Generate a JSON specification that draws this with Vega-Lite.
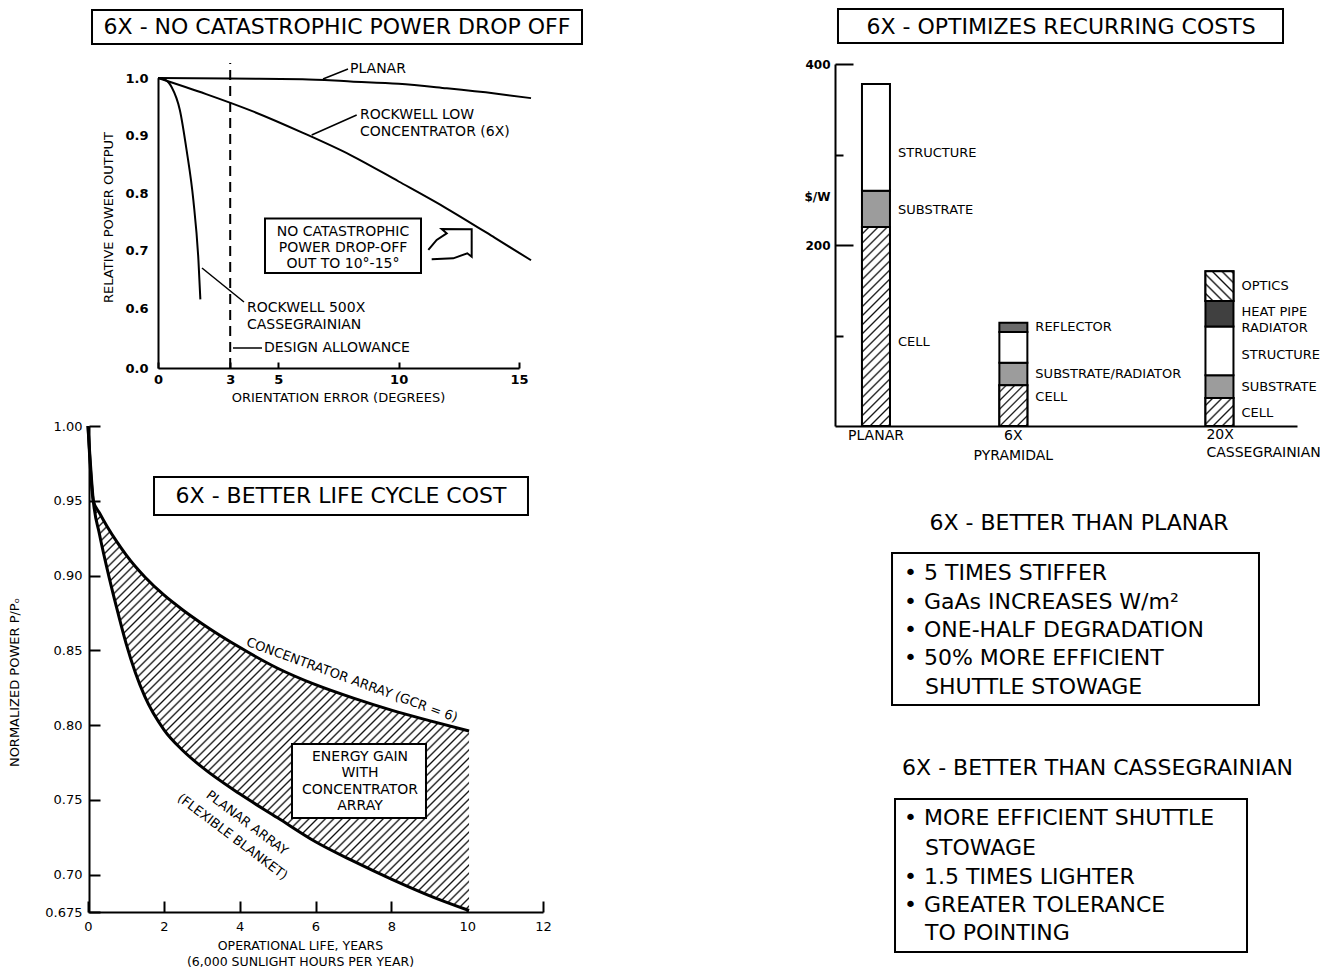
{
"$schema": "https://vega.github.io/schema/vega-lite/v6.json",
"width": 1336, "height": 970, "padding": 0, "autosize": {"type": "none"},
"background": "white",
"config": {
  "view": {"stroke": null},
  "font": "DejaVu Sans",
  "axis": {"grid": false, "domainColor": "#000", "domainWidth": 2, "tickColor": "#000", "tickWidth": 2, "labelColor": "#000", "titleColor": "#000", "labelFont": "DejaVu Sans", "titleFont": "DejaVu Sans", "labelFlush": false, "labelOverlap": false, "titleFontWeight": "normal", "titleFontSize": 13, "labelFontSize": 13},
  "text": {"font": "DejaVu Sans", "color": "#000", "fontSize": 13, "baseline": "middle"}
},
"datasets": {
  "bars": [
    {"design": "PLANAR", "component": "CELL", "usd_per_w": 220, "seq": 1},
    {"design": "PLANAR", "component": "SUBSTRATE", "usd_per_w": 40, "seq": 2},
    {"design": "PLANAR", "component": "STRUCTURE", "usd_per_w": 118, "seq": 3},
    {"design": "6X", "component": "CELL", "usd_per_w": 45, "seq": 1},
    {"design": "6X", "component": "SUBSTRATE", "usd_per_w": 25, "seq": 2},
    {"design": "6X", "component": "STRUCTURE", "usd_per_w": 34, "seq": 3},
    {"design": "6X", "component": "REFLECTOR", "usd_per_w": 10, "seq": 4},
    {"design": "20X", "component": "CELL", "usd_per_w": 31, "seq": 1},
    {"design": "20X", "component": "SUBSTRATE", "usd_per_w": 25, "seq": 2},
    {"design": "20X", "component": "STRUCTURE", "usd_per_w": 54, "seq": 3},
    {"design": "20X", "component": "HEAT PIPE RADIATOR", "usd_per_w": 28, "seq": 4},
    {"design": "20X", "component": "OPTICS", "usd_per_w": 33, "seq": 5}
  ]
},
"resolve": {"scale": {"x": "independent", "y": "independent", "fill": "independent"}, "axis": {"x": "independent", "y": "independent"}},
"layer": [
{
  "encoding": {
    "x": {"field": "deg", "type": "quantitative", "scale": {"domain": [0, 15], "range": [158, 519], "nice": false, "zero": false},
      "axis": {"orient": "bottom", "offset": -602, "values": [0, 3, 5, 10, 15], "tickSize": -6, "labelPadding": 11.5, "labelFontWeight": "bold", "title": "ORIENTATION ERROR (DEGREES)", "titleX": 338, "titleY": 29, "titleAlign": "center", "titleBaseline": "middle"}},
    "y": {"field": "power", "type": "quantitative", "scale": {"domain": [0, 0.6, 1], "range": [368, 308, 78], "nice": false, "zero": false},
      "axis": {"orient": "left", "offset": -158, "values": [0, 0.6, 0.7, 0.8, 0.9, 1], "format": ".1f", "ticks": false, "labelPadding": 10, "labelFontWeight": "bold", "title": "RELATIVE POWER OUTPUT", "titleX": -50, "titleY": 217, "titleAngle": 270, "titleAlign": "center", "titleBaseline": "middle"}}
  },
  "layer": [
    {"data": {"values": [
      {"series": "PLANAR", "deg": 0, "power": 1.0}, {"series": "PLANAR", "deg": 3, "power": 0.999}, {"series": "PLANAR", "deg": 6, "power": 0.998}, {"series": "PLANAR", "deg": 8, "power": 0.994}, {"series": "PLANAR", "deg": 10, "power": 0.99}, {"series": "PLANAR", "deg": 12, "power": 0.982}, {"series": "PLANAR", "deg": 14, "power": 0.973}, {"series": "PLANAR", "deg": 15.5, "power": 0.965},
      {"series": "6X", "deg": 0, "power": 1.0}, {"series": "6X", "deg": 2, "power": 0.972}, {"series": "6X", "deg": 4, "power": 0.941}, {"series": "6X", "deg": 6, "power": 0.905}, {"series": "6X", "deg": 8, "power": 0.866}, {"series": "6X", "deg": 10, "power": 0.82}, {"series": "6X", "deg": 12, "power": 0.773}, {"series": "6X", "deg": 14, "power": 0.722}, {"series": "6X", "deg": 15.5, "power": 0.683},
      {"series": "500X", "deg": 0, "power": 1.0}, {"series": "500X", "deg": 0.3, "power": 0.997}, {"series": "500X", "deg": 0.57, "power": 0.984}, {"series": "500X", "deg": 0.91, "power": 0.944}, {"series": "500X", "deg": 1.19, "power": 0.874}, {"series": "500X", "deg": 1.47, "power": 0.787}, {"series": "500X", "deg": 1.68, "power": 0.683}, {"series": "500X", "deg": 1.76, "power": 0.615}
    ]},
     "mark": {"type": "line", "color": "#000", "strokeWidth": 2, "interpolate": "monotone"},
     "encoding": {"detail": {"field": "series"}}},
    {"data": {"values": [{"deg": 3, "power": 0, "deg2": 3, "power2": 1.026}]},
     "mark": {"type": "rule", "color": "#000", "strokeWidth": 2, "strokeDash": [10, 6]},
     "encoding": {"x2": {"field": "deg2"}, "y2": {"field": "power2"}}},
    {"data": {"values": [
      {"deg": 7.895, "power": 1.0157, "deg2": 6.856, "power2": 0.9983},
      {"deg": 8.256, "power": 0.9357, "deg2": 6.386, "power2": 0.9009},
      {"deg": 3.573, "power": 0.6104, "deg2": 1.828, "power2": 0.6696},
      {"deg": 4.321, "power": 0.2, "deg2": 3.116, "power2": 0.2}
    ]},
     "mark": {"type": "rule", "color": "#000", "strokeWidth": 1.5},
     "encoding": {"x2": {"field": "deg2"}, "y2": {"field": "power2"}}},
    {"data": {"values": [
      {"deg": -2.742, "deg2": 17.618, "power": 1.1183, "power2": 1.0591},
      {"deg": 4.446, "deg2": 10.928, "power": 0.7557, "power2": 0.6609}
    ]},
     "mark": {"type": "rect", "fill": "#fff", "stroke": "#000", "strokeWidth": 2},
     "encoding": {"x2": {"field": "deg2"}, "y2": {"field": "power2"}}},
    {"data": {"values": [
      {"seq": 1, "deg": 11.232, "power": 0.7009}, {"seq": 2, "deg": 11.58, "power": 0.7183}, {"seq": 3, "deg": 11.996, "power": 0.7299}, {"seq": 4, "deg": 11.788, "power": 0.7374}, {"seq": 5, "deg": 13.034, "power": 0.7368}, {"seq": 6, "deg": 13.034, "power": 0.6892}, {"seq": 7, "deg": 12.852, "power": 0.6951}, {"seq": 8, "deg": 12.27, "power": 0.6864}, {"seq": 9, "deg": 11.372, "power": 0.6847}
    ]},
     "mark": {"type": "line", "color": "#000", "strokeWidth": 2},
     "encoding": {"order": {"field": "seq", "type": "quantitative"}}},
    {"data": {"values": [
      {"label": "PLANAR", "deg": 7.978, "power": 1.0157},
      {"label": "ROCKWELL LOW", "deg": 8.393, "power": 0.9357},
      {"label": "CONCENTRATOR (6X)", "deg": 8.393, "power": 0.9061},
      {"label": "ROCKWELL 500X", "deg": 3.698, "power": 0.6},
      {"label": "CASSEGRAINIAN", "deg": 3.698, "power": 0.43},
      {"label": "DESIGN ALLOWANCE", "deg": 4.404, "power": 0.2}
    ]},
     "mark": {"type": "text", "align": "left", "fontSize": 14},
     "encoding": {"text": {"field": "label"}}},
    {"data": {"values": [
      {"label": "NO CATASTROPHIC", "deg": 7.687, "power": 0.733},
      {"label": "POWER DROP-OFF", "deg": 7.687, "power": 0.7043},
      {"label": "OUT TO 10°-15°", "deg": 7.687, "power": 0.6765}
    ]},
     "mark": {"type": "text", "align": "center", "fontSize": 14},
     "encoding": {"text": {"field": "label"}}},
    {"data": {"values": [{"label": "6X - NO CATASTROPHIC POWER DROP OFF", "deg": 7.438, "power": 1.0887}]},
     "mark": {"type": "text", "align": "center", "fontSize": 22},
     "encoding": {"text": {"field": "label"}}}
  ]
},
{
  "data": {"values": [
    {"yr": 0, "conc": 1.0, "planar": 1.0},
    {"yr": 0.14, "conc": 0.95, "planar": 0.95},
    {"yr": 0.3, "conc": 0.942, "planar": 0.928},
    {"yr": 0.5, "conc": 0.933, "planar": 0.905},
    {"yr": 0.75, "conc": 0.923, "planar": 0.879},
    {"yr": 1, "conc": 0.914, "planar": 0.855},
    {"yr": 1.25, "conc": 0.906, "planar": 0.835},
    {"yr": 1.5, "conc": 0.899, "planar": 0.819},
    {"yr": 2, "conc": 0.887, "planar": 0.797},
    {"yr": 2.5, "conc": 0.877, "planar": 0.783},
    {"yr": 3, "conc": 0.868, "planar": 0.772},
    {"yr": 4, "conc": 0.852, "planar": 0.754},
    {"yr": 5, "conc": 0.838, "planar": 0.738},
    {"yr": 6, "conc": 0.827, "planar": 0.722},
    {"yr": 7, "conc": 0.818, "planar": 0.709},
    {"yr": 8, "conc": 0.81, "planar": 0.697},
    {"yr": 9, "conc": 0.803, "planar": 0.686},
    {"yr": 10.05, "conc": 0.796, "planar": 0.676}
  ]},
  "encoding": {
    "x": {"field": "yr", "type": "quantitative", "scale": {"domain": [0, 12], "range": [88, 543], "nice": false, "zero": false},
      "axis": {"orient": "bottom", "offset": -58, "values": [0, 2, 4, 6, 8, 10, 12], "tickSize": -11, "labelPadding": 19, "title": ["OPERATIONAL LIFE, YEARS", "(6,000 SUNLIGHT HOURS PER YEAR)"], "titleX": 300, "titleY": 33, "titleAlign": "center", "titleBaseline": "middle", "titleLineHeight": 16, "titleFontSize": 12.5}},
    "y": {"field": "p", "type": "quantitative", "scale": {"domain": [0.675, 1], "range": [912, 426], "nice": false, "zero": false},
      "axis": {"orient": "left", "offset": -89, "values": [0.675, 0.7, 0.75, 0.8, 0.85, 0.9, 0.95, 1], "labelExpr": "datum.value === 0.675 ? '0.675' : format(datum.value, '.2f')", "tickSize": -11, "labelPadding": 18, "title": "NORMALIZED POWER P/Pₒ", "titleX": -75, "titleY": 682, "titleAngle": 270, "titleAlign": "center", "titleBaseline": "middle"}}
  },
  "layer": [
    {"transform": [{"filter": "datum.yr > 0"}],
     "mark": {"type": "area", "interpolate": "monotone", "stroke": null, "fill": {"gradient": "linear", "x1": 0, "y1": 0, "x2": 1, "y2": 1.094, "stops": [
{"offset":0,"color":"#fff"},{"offset":0.0055,"color":"#fff"},{"offset":0.0078,"color":"#111"},
{"offset":0.01,"color":"#fff"},{"offset":0.0155,"color":"#fff"},{"offset":0.0178,"color":"#111"},
{"offset":0.02,"color":"#fff"},{"offset":0.0255,"color":"#fff"},{"offset":0.0278,"color":"#111"},
{"offset":0.03,"color":"#fff"},{"offset":0.0355,"color":"#fff"},{"offset":0.0378,"color":"#111"},
{"offset":0.04,"color":"#fff"},{"offset":0.0455,"color":"#fff"},{"offset":0.0478,"color":"#111"},
{"offset":0.05,"color":"#fff"},{"offset":0.0555,"color":"#fff"},{"offset":0.0578,"color":"#111"},
{"offset":0.06,"color":"#fff"},{"offset":0.0655,"color":"#fff"},{"offset":0.0678,"color":"#111"},
{"offset":0.07,"color":"#fff"},{"offset":0.0755,"color":"#fff"},{"offset":0.0778,"color":"#111"},
{"offset":0.08,"color":"#fff"},{"offset":0.0855,"color":"#fff"},{"offset":0.0878,"color":"#111"},
{"offset":0.09,"color":"#fff"},{"offset":0.0955,"color":"#fff"},{"offset":0.0978,"color":"#111"},
{"offset":0.10,"color":"#fff"},{"offset":0.1055,"color":"#fff"},{"offset":0.1078,"color":"#111"},
{"offset":0.11,"color":"#fff"},{"offset":0.1155,"color":"#fff"},{"offset":0.1178,"color":"#111"},
{"offset":0.12,"color":"#fff"},{"offset":0.1255,"color":"#fff"},{"offset":0.1278,"color":"#111"},
{"offset":0.13,"color":"#fff"},{"offset":0.1355,"color":"#fff"},{"offset":0.1378,"color":"#111"},
{"offset":0.14,"color":"#fff"},{"offset":0.1455,"color":"#fff"},{"offset":0.1478,"color":"#111"},
{"offset":0.15,"color":"#fff"},{"offset":0.1555,"color":"#fff"},{"offset":0.1578,"color":"#111"},
{"offset":0.16,"color":"#fff"},{"offset":0.1655,"color":"#fff"},{"offset":0.1678,"color":"#111"},
{"offset":0.17,"color":"#fff"},{"offset":0.1755,"color":"#fff"},{"offset":0.1778,"color":"#111"},
{"offset":0.18,"color":"#fff"},{"offset":0.1855,"color":"#fff"},{"offset":0.1878,"color":"#111"},
{"offset":0.19,"color":"#fff"},{"offset":0.1955,"color":"#fff"},{"offset":0.1978,"color":"#111"},
{"offset":0.20,"color":"#fff"},{"offset":0.2055,"color":"#fff"},{"offset":0.2078,"color":"#111"},
{"offset":0.21,"color":"#fff"},{"offset":0.2155,"color":"#fff"},{"offset":0.2178,"color":"#111"},
{"offset":0.22,"color":"#fff"},{"offset":0.2255,"color":"#fff"},{"offset":0.2278,"color":"#111"},
{"offset":0.23,"color":"#fff"},{"offset":0.2355,"color":"#fff"},{"offset":0.2378,"color":"#111"},
{"offset":0.24,"color":"#fff"},{"offset":0.2455,"color":"#fff"},{"offset":0.2478,"color":"#111"},
{"offset":0.25,"color":"#fff"},{"offset":0.2555,"color":"#fff"},{"offset":0.2578,"color":"#111"},
{"offset":0.26,"color":"#fff"},{"offset":0.2655,"color":"#fff"},{"offset":0.2678,"color":"#111"},
{"offset":0.27,"color":"#fff"},{"offset":0.2755,"color":"#fff"},{"offset":0.2778,"color":"#111"},
{"offset":0.28,"color":"#fff"},{"offset":0.2855,"color":"#fff"},{"offset":0.2878,"color":"#111"},
{"offset":0.29,"color":"#fff"},{"offset":0.2955,"color":"#fff"},{"offset":0.2978,"color":"#111"},
{"offset":0.30,"color":"#fff"},{"offset":0.3055,"color":"#fff"},{"offset":0.3078,"color":"#111"},
{"offset":0.31,"color":"#fff"},{"offset":0.3155,"color":"#fff"},{"offset":0.3178,"color":"#111"},
{"offset":0.32,"color":"#fff"},{"offset":0.3255,"color":"#fff"},{"offset":0.3278,"color":"#111"},
{"offset":0.33,"color":"#fff"},{"offset":0.3355,"color":"#fff"},{"offset":0.3378,"color":"#111"},
{"offset":0.34,"color":"#fff"},{"offset":0.3455,"color":"#fff"},{"offset":0.3478,"color":"#111"},
{"offset":0.35,"color":"#fff"},{"offset":0.3555,"color":"#fff"},{"offset":0.3578,"color":"#111"},
{"offset":0.36,"color":"#fff"},{"offset":0.3655,"color":"#fff"},{"offset":0.3678,"color":"#111"},
{"offset":0.37,"color":"#fff"},{"offset":0.3755,"color":"#fff"},{"offset":0.3778,"color":"#111"},
{"offset":0.38,"color":"#fff"},{"offset":0.3855,"color":"#fff"},{"offset":0.3878,"color":"#111"},
{"offset":0.39,"color":"#fff"},{"offset":0.3955,"color":"#fff"},{"offset":0.3978,"color":"#111"},
{"offset":0.40,"color":"#fff"},{"offset":0.4055,"color":"#fff"},{"offset":0.4078,"color":"#111"},
{"offset":0.41,"color":"#fff"},{"offset":0.4155,"color":"#fff"},{"offset":0.4178,"color":"#111"},
{"offset":0.42,"color":"#fff"},{"offset":0.4255,"color":"#fff"},{"offset":0.4278,"color":"#111"},
{"offset":0.43,"color":"#fff"},{"offset":0.4355,"color":"#fff"},{"offset":0.4378,"color":"#111"},
{"offset":0.44,"color":"#fff"},{"offset":0.4455,"color":"#fff"},{"offset":0.4478,"color":"#111"},
{"offset":0.45,"color":"#fff"},{"offset":0.4555,"color":"#fff"},{"offset":0.4578,"color":"#111"},
{"offset":0.46,"color":"#fff"},{"offset":0.4655,"color":"#fff"},{"offset":0.4678,"color":"#111"},
{"offset":0.47,"color":"#fff"},{"offset":0.4755,"color":"#fff"},{"offset":0.4778,"color":"#111"},
{"offset":0.48,"color":"#fff"},{"offset":0.4855,"color":"#fff"},{"offset":0.4878,"color":"#111"},
{"offset":0.49,"color":"#fff"},{"offset":0.4955,"color":"#fff"},{"offset":0.4978,"color":"#111"},
{"offset":0.50,"color":"#fff"},{"offset":0.5055,"color":"#fff"},{"offset":0.5078,"color":"#111"},
{"offset":0.51,"color":"#fff"},{"offset":0.5155,"color":"#fff"},{"offset":0.5178,"color":"#111"},
{"offset":0.52,"color":"#fff"},{"offset":0.5255,"color":"#fff"},{"offset":0.5278,"color":"#111"},
{"offset":0.53,"color":"#fff"},{"offset":0.5355,"color":"#fff"},{"offset":0.5378,"color":"#111"},
{"offset":0.54,"color":"#fff"},{"offset":0.5455,"color":"#fff"},{"offset":0.5478,"color":"#111"},
{"offset":0.55,"color":"#fff"},{"offset":0.5555,"color":"#fff"},{"offset":0.5578,"color":"#111"},
{"offset":0.56,"color":"#fff"},{"offset":0.5655,"color":"#fff"},{"offset":0.5678,"color":"#111"},
{"offset":0.57,"color":"#fff"},{"offset":0.5755,"color":"#fff"},{"offset":0.5778,"color":"#111"},
{"offset":0.58,"color":"#fff"},{"offset":0.5855,"color":"#fff"},{"offset":0.5878,"color":"#111"},
{"offset":0.59,"color":"#fff"},{"offset":0.5955,"color":"#fff"},{"offset":0.5978,"color":"#111"},
{"offset":0.60,"color":"#fff"},{"offset":0.6055,"color":"#fff"},{"offset":0.6078,"color":"#111"},
{"offset":0.61,"color":"#fff"},{"offset":0.6155,"color":"#fff"},{"offset":0.6178,"color":"#111"},
{"offset":0.62,"color":"#fff"},{"offset":0.6255,"color":"#fff"},{"offset":0.6278,"color":"#111"},
{"offset":0.63,"color":"#fff"},{"offset":0.6355,"color":"#fff"},{"offset":0.6378,"color":"#111"},
{"offset":0.64,"color":"#fff"},{"offset":0.6455,"color":"#fff"},{"offset":0.6478,"color":"#111"},
{"offset":0.65,"color":"#fff"},{"offset":0.6555,"color":"#fff"},{"offset":0.6578,"color":"#111"},
{"offset":0.66,"color":"#fff"},{"offset":0.6655,"color":"#fff"},{"offset":0.6678,"color":"#111"},
{"offset":0.67,"color":"#fff"},{"offset":0.6755,"color":"#fff"},{"offset":0.6778,"color":"#111"},
{"offset":0.68,"color":"#fff"},{"offset":0.6855,"color":"#fff"},{"offset":0.6878,"color":"#111"},
{"offset":0.69,"color":"#fff"},{"offset":0.6955,"color":"#fff"},{"offset":0.6978,"color":"#111"},
{"offset":0.70,"color":"#fff"},{"offset":0.7055,"color":"#fff"},{"offset":0.7078,"color":"#111"},
{"offset":0.71,"color":"#fff"},{"offset":0.7155,"color":"#fff"},{"offset":0.7178,"color":"#111"},
{"offset":0.72,"color":"#fff"},{"offset":0.7255,"color":"#fff"},{"offset":0.7278,"color":"#111"},
{"offset":0.73,"color":"#fff"},{"offset":0.7355,"color":"#fff"},{"offset":0.7378,"color":"#111"},
{"offset":0.74,"color":"#fff"},{"offset":0.7455,"color":"#fff"},{"offset":0.7478,"color":"#111"},
{"offset":0.75,"color":"#fff"},{"offset":0.7555,"color":"#fff"},{"offset":0.7578,"color":"#111"},
{"offset":0.76,"color":"#fff"},{"offset":0.7655,"color":"#fff"},{"offset":0.7678,"color":"#111"},
{"offset":0.77,"color":"#fff"},{"offset":0.7755,"color":"#fff"},{"offset":0.7778,"color":"#111"},
{"offset":0.78,"color":"#fff"},{"offset":0.7855,"color":"#fff"},{"offset":0.7878,"color":"#111"},
{"offset":0.79,"color":"#fff"},{"offset":0.7955,"color":"#fff"},{"offset":0.7978,"color":"#111"},
{"offset":0.80,"color":"#fff"},{"offset":0.8055,"color":"#fff"},{"offset":0.8078,"color":"#111"},
{"offset":0.81,"color":"#fff"},{"offset":0.8155,"color":"#fff"},{"offset":0.8178,"color":"#111"},
{"offset":0.82,"color":"#fff"},{"offset":0.8255,"color":"#fff"},{"offset":0.8278,"color":"#111"},
{"offset":0.83,"color":"#fff"},{"offset":0.8355,"color":"#fff"},{"offset":0.8378,"color":"#111"},
{"offset":0.84,"color":"#fff"},{"offset":0.8455,"color":"#fff"},{"offset":0.8478,"color":"#111"},
{"offset":0.85,"color":"#fff"},{"offset":0.8555,"color":"#fff"},{"offset":0.8578,"color":"#111"},
{"offset":0.86,"color":"#fff"},{"offset":0.8655,"color":"#fff"},{"offset":0.8678,"color":"#111"},
{"offset":0.87,"color":"#fff"},{"offset":0.8755,"color":"#fff"},{"offset":0.8778,"color":"#111"},
{"offset":0.88,"color":"#fff"},{"offset":0.8855,"color":"#fff"},{"offset":0.8878,"color":"#111"},
{"offset":0.89,"color":"#fff"},{"offset":0.8955,"color":"#fff"},{"offset":0.8978,"color":"#111"},
{"offset":0.90,"color":"#fff"},{"offset":0.9055,"color":"#fff"},{"offset":0.9078,"color":"#111"},
{"offset":0.91,"color":"#fff"},{"offset":0.9155,"color":"#fff"},{"offset":0.9178,"color":"#111"},
{"offset":0.92,"color":"#fff"},{"offset":0.9255,"color":"#fff"},{"offset":0.9278,"color":"#111"},
{"offset":0.93,"color":"#fff"},{"offset":0.9355,"color":"#fff"},{"offset":0.9378,"color":"#111"},
{"offset":0.94,"color":"#fff"},{"offset":0.9455,"color":"#fff"},{"offset":0.9478,"color":"#111"},
{"offset":0.95,"color":"#fff"},{"offset":0.9555,"color":"#fff"},{"offset":0.9578,"color":"#111"},
{"offset":0.96,"color":"#fff"},{"offset":0.9655,"color":"#fff"},{"offset":0.9678,"color":"#111"},
{"offset":0.97,"color":"#fff"},{"offset":0.9755,"color":"#fff"},{"offset":0.9778,"color":"#111"},
{"offset":0.98,"color":"#fff"},{"offset":0.9855,"color":"#fff"},{"offset":0.9878,"color":"#111"},
{"offset":0.99,"color":"#fff"},{"offset":0.9955,"color":"#fff"},{"offset":0.9978,"color":"#111"},
{"offset":1,"color":"#fff"}
     ]}},
     "encoding": {
       "y": {"field": "conc", "type": "quantitative", "scale": {"domain": [0.675, 1], "range": [912, 426], "nice": false, "zero": false},
         "axis": {"orient": "left", "offset": -89, "values": [0.675, 0.7, 0.75, 0.8, 0.85, 0.9, 0.95, 1], "labelExpr": "datum.value === 0.675 ? '0.675' : format(datum.value, '.2f')", "tickSize": -11, "labelPadding": 18, "title": "NORMALIZED POWER P/Pₒ", "titleX": -75, "titleY": 682, "titleAngle": 270, "titleAlign": "center", "titleBaseline": "middle"}},
       "y2": {"field": "planar"}
     }},
    {"transform": [{"fold": ["conc", "planar"], "as": ["series", "p"]}],
     "mark": {"type": "line", "color": "#000", "strokeWidth": 3, "interpolate": "monotone"},
     "encoding": {"detail": {"field": "series"}}},
    {"data": {"values": [
      {"yr": 1.741, "yr2": 11.604, "p": 0.9659, "p2": 0.9405},
      {"yr": 5.38, "yr2": 8.914, "p": 0.7873, "p2": 0.7379}
    ]},
     "mark": {"type": "rect", "fill": "#fff", "stroke": "#000", "strokeWidth": 2},
     "encoding": {"x2": {"field": "yr2"}, "y2": {"field": "p2"}}},
    {"data": {"values": [
      {"label": "ENERGY GAIN", "yr": 7.174, "p": 0.7787},
      {"label": "WITH", "yr": 7.174, "p": 0.768},
      {"label": "CONCENTRATOR", "yr": 7.174, "p": 0.7566},
      {"label": "ARRAY", "yr": 7.174, "p": 0.7456}
    ]},
     "mark": {"type": "text", "align": "center", "fontSize": 14},
     "encoding": {"text": {"field": "label"}}},
    {"data": {"values": [{"label": "6X - BETTER LIFE CYCLE COST", "yr": 6.672, "p": 0.9532}]},
     "mark": {"type": "text", "align": "center", "fontSize": 22},
     "encoding": {"text": {"field": "label"}}},
    {"data": {"values": [{"label": "CONCENTRATOR ARRAY (GCR = 6)", "yr": 6.963, "p": 0.8301}]},
     "mark": {"type": "text", "align": "center", "fontSize": 13, "angle": 20},
     "encoding": {"text": {"field": "label"}}},
    {"data": {"values": [
      {"label": "PLANAR ARRAY", "yr": 4.193, "p": 0.7345},
      {"label": "(FLEXIBLE BLANKET)", "yr": 3.811, "p": 0.7252}
    ]},
     "mark": {"type": "text", "align": "center", "fontSize": 13, "angle": 37},
     "encoding": {"text": {"field": "label"}}}
  ]
},
{
  "encoding": {
    "x": {"field": "design", "type": "nominal", "scale": {"type": "band", "domain": ["PLANAR", "gap1", "6X", "gap2", "gap3", "20X"], "range": [835, 1297], "paddingInner": 0.5924, "paddingOuter": 0.6587, "align": 0.298},
      "axis": {"orient": "bottom", "offset": -544, "labels": false, "ticks": false, "title": null}},
    "y": {"field": "usd_per_w", "type": "quantitative", "scale": {"domain": [0, 400], "range": [426, 64], "nice": false, "zero": false},
      "axis": {"orient": "left", "offset": -835, "values": [100, 200, 300, 400], "labelExpr": "datum.value % 200 === 0 ? datum.label : ''", "tickSize": {"condition": {"test": "datum.value % 200 === 0", "value": -18}, "value": -8}, "labelPadding": 23, "labelFontSize": 12, "labelFontWeight": "bold", "title": "$/W", "titleAngle": 0, "titleX": -18, "titleY": 196, "titleAlign": "center", "titleBaseline": "middle", "titleFontSize": 12, "titleFontWeight": "bold"}}
  },
  "layer": [
    {"data": {"name": "bars"},
     "mark": {"type": "bar", "stroke": "#000", "strokeWidth": 2},
     "encoding": {
       "fill": {"field": "component", "type": "nominal", "legend": null, "scale": {"domain": ["CELL", "SUBSTRATE", "STRUCTURE", "REFLECTOR", "HEAT PIPE RADIATOR", "OPTICS"], "range": ["#cdcdcd", "#9c9c9c", "#ffffff", "#6a6a6a", "#404040", "#c8c8c8"]}},
       "order": {"field": "seq", "type": "quantitative"}
     }},
    {"data": {"name": "bars"},
     "transform": [{"filter": "datum.component === 'CELL' && datum.design === 'PLANAR'"}],
     "mark": {"type": "bar", "stroke": "#000", "strokeWidth": 2, "fill": {"gradient": "linear", "x1": 0, "y1": 0, "x2": 0.1573, "y2": 1.1186, "stops": [
{"offset":0,"color":"#fff"},{"offset":0.024,"color":"#fff"},{"offset":0.032,"color":"#111"},
{"offset":0.04,"color":"#fff"},{"offset":0.064,"color":"#fff"},{"offset":0.072,"color":"#111"},
{"offset":0.08,"color":"#fff"},{"offset":0.104,"color":"#fff"},{"offset":0.112,"color":"#111"},
{"offset":0.12,"color":"#fff"},{"offset":0.144,"color":"#fff"},{"offset":0.152,"color":"#111"},
{"offset":0.16,"color":"#fff"},{"offset":0.184,"color":"#fff"},{"offset":0.192,"color":"#111"},
{"offset":0.20,"color":"#fff"},{"offset":0.224,"color":"#fff"},{"offset":0.232,"color":"#111"},
{"offset":0.24,"color":"#fff"},{"offset":0.264,"color":"#fff"},{"offset":0.272,"color":"#111"},
{"offset":0.28,"color":"#fff"},{"offset":0.304,"color":"#fff"},{"offset":0.312,"color":"#111"},
{"offset":0.32,"color":"#fff"},{"offset":0.344,"color":"#fff"},{"offset":0.352,"color":"#111"},
{"offset":0.36,"color":"#fff"},{"offset":0.384,"color":"#fff"},{"offset":0.392,"color":"#111"},
{"offset":0.40,"color":"#fff"},{"offset":0.424,"color":"#fff"},{"offset":0.432,"color":"#111"},
{"offset":0.44,"color":"#fff"},{"offset":0.464,"color":"#fff"},{"offset":0.472,"color":"#111"},
{"offset":0.48,"color":"#fff"},{"offset":0.504,"color":"#fff"},{"offset":0.512,"color":"#111"},
{"offset":0.52,"color":"#fff"},{"offset":0.544,"color":"#fff"},{"offset":0.552,"color":"#111"},
{"offset":0.56,"color":"#fff"},{"offset":0.584,"color":"#fff"},{"offset":0.592,"color":"#111"},
{"offset":0.60,"color":"#fff"},{"offset":0.624,"color":"#fff"},{"offset":0.632,"color":"#111"},
{"offset":0.64,"color":"#fff"},{"offset":0.664,"color":"#fff"},{"offset":0.672,"color":"#111"},
{"offset":0.68,"color":"#fff"},{"offset":0.704,"color":"#fff"},{"offset":0.712,"color":"#111"},
{"offset":0.72,"color":"#fff"},{"offset":0.744,"color":"#fff"},{"offset":0.752,"color":"#111"},
{"offset":0.76,"color":"#fff"},{"offset":0.784,"color":"#fff"},{"offset":0.792,"color":"#111"},
{"offset":0.80,"color":"#fff"},{"offset":0.824,"color":"#fff"},{"offset":0.832,"color":"#111"},
{"offset":0.84,"color":"#fff"},{"offset":0.864,"color":"#fff"},{"offset":0.872,"color":"#111"},
{"offset":0.88,"color":"#fff"},{"offset":0.904,"color":"#fff"},{"offset":0.912,"color":"#111"},
{"offset":0.92,"color":"#fff"},{"offset":0.944,"color":"#fff"},{"offset":0.952,"color":"#111"},
{"offset":0.96,"color":"#fff"},{"offset":0.984,"color":"#fff"},{"offset":0.992,"color":"#111"},
{"offset":1,"color":"#fff"}
     ]}}},
    {"data": {"name": "bars"},
     "transform": [{"filter": "datum.component === 'CELL' && datum.design === '6X'"}],
     "mark": {"type": "bar", "stroke": "#000", "strokeWidth": 2, "fill": {"gradient": "linear", "x1": 0, "y1": 0, "x2": 0.788, "y2": 1.146, "stops": [
{"offset":0,"color":"#fff"},{"offset":0.075,"color":"#fff"},{"offset":0.1,"color":"#111"},
{"offset":0.125,"color":"#fff"},{"offset":0.2,"color":"#fff"},{"offset":0.225,"color":"#111"},
{"offset":0.25,"color":"#fff"},{"offset":0.325,"color":"#fff"},{"offset":0.35,"color":"#111"},
{"offset":0.375,"color":"#fff"},{"offset":0.45,"color":"#fff"},{"offset":0.475,"color":"#111"},
{"offset":0.5,"color":"#fff"},{"offset":0.575,"color":"#fff"},{"offset":0.6,"color":"#111"},
{"offset":0.625,"color":"#fff"},{"offset":0.7,"color":"#fff"},{"offset":0.725,"color":"#111"},
{"offset":0.75,"color":"#fff"},{"offset":0.825,"color":"#fff"},{"offset":0.85,"color":"#111"},
{"offset":0.875,"color":"#fff"},{"offset":0.95,"color":"#fff"},{"offset":0.975,"color":"#111"},
{"offset":1,"color":"#fff"}
     ]}}},
    {"data": {"name": "bars"},
     "transform": [{"filter": "datum.component === 'CELL' && datum.design === '20X'"}],
     "mark": {"type": "bar", "stroke": "#000", "strokeWidth": 2, "fill": {"gradient": "linear", "x1": 0, "y1": 0, "x2": 1, "y2": 1, "stops": [
{"offset":0,"color":"#fff"},{"offset":0.1,"color":"#fff"},{"offset":0.1333,"color":"#111"},
{"offset":0.1667,"color":"#fff"},{"offset":0.2667,"color":"#fff"},{"offset":0.3,"color":"#111"},
{"offset":0.3333,"color":"#fff"},{"offset":0.4333,"color":"#fff"},{"offset":0.4667,"color":"#111"},
{"offset":0.5,"color":"#fff"},{"offset":0.6,"color":"#fff"},{"offset":0.6333,"color":"#111"},
{"offset":0.6667,"color":"#fff"},{"offset":0.7667,"color":"#fff"},{"offset":0.8,"color":"#111"},
{"offset":0.8333,"color":"#fff"},{"offset":0.9333,"color":"#fff"},{"offset":0.9667,"color":"#111"},
{"offset":1,"color":"#fff"}
     ]}}},
    {"data": {"name": "bars"},
     "transform": [{"stack": "usd_per_w", "groupby": ["design"], "sort": [{"field": "seq", "order": "ascending"}], "as": ["lo", "hi"]}, {"filter": "datum.component === 'OPTICS'"}],
     "mark": {"type": "bar", "stroke": "#000", "strokeWidth": 2, "fill": {"gradient": "linear", "x1": 0, "y1": 1, "x2": 0.965, "y2": -0.033, "stops": [
{"offset":0,"color":"#fff"},{"offset":0.1,"color":"#fff"},{"offset":0.1333,"color":"#111"},
{"offset":0.1667,"color":"#fff"},{"offset":0.2667,"color":"#fff"},{"offset":0.3,"color":"#111"},
{"offset":0.3333,"color":"#fff"},{"offset":0.4333,"color":"#fff"},{"offset":0.4667,"color":"#111"},
{"offset":0.5,"color":"#fff"},{"offset":0.6,"color":"#fff"},{"offset":0.6333,"color":"#111"},
{"offset":0.6667,"color":"#fff"},{"offset":0.7667,"color":"#fff"},{"offset":0.8,"color":"#111"},
{"offset":0.8333,"color":"#fff"},{"offset":0.9333,"color":"#fff"},{"offset":0.9667,"color":"#111"},
{"offset":1,"color":"#fff"}
     ]}},
     "encoding": {
       "y": {"field": "lo", "type": "quantitative", "scale": {"domain": [0, 400], "range": [426, 64], "nice": false, "zero": false},
         "axis": {"orient": "left", "offset": -835, "values": [100, 200, 300, 400], "labelExpr": "datum.value % 200 === 0 ? datum.label : ''", "tickSize": {"condition": {"test": "datum.value % 200 === 0", "value": -18}, "value": -8}, "labelPadding": 23, "labelFontSize": 12, "labelFontWeight": "bold", "title": "$/W", "titleAngle": 0, "titleX": -18, "titleY": 196, "titleAlign": "center", "titleBaseline": "middle", "titleFontSize": 12, "titleFontWeight": "bold"}},
       "y2": {"field": "hi"}
     }},
    {"data": {"values": [
      {"design": "PLANAR", "label": "STRUCTURE", "usd_per_w": 301.3},
      {"design": "PLANAR", "label": "SUBSTRATE", "usd_per_w": 238.7},
      {"design": "PLANAR", "label": "CELL", "usd_per_w": 93.1},
      {"design": "6X", "label": "REFLECTOR", "usd_per_w": 109},
      {"design": "6X", "label": "SUBSTRATE/RADIATOR", "usd_per_w": 57.5},
      {"design": "6X", "label": "CELL", "usd_per_w": 32},
      {"design": "20X", "label": "OPTICS", "usd_per_w": 154.7},
      {"design": "20X", "label": "HEAT PIPE", "usd_per_w": 126.3},
      {"design": "20X", "label": "RADIATOR", "usd_per_w": 108},
      {"design": "20X", "label": "STRUCTURE", "usd_per_w": 78.5},
      {"design": "20X", "label": "SUBSTRATE", "usd_per_w": 43.4},
      {"design": "20X", "label": "CELL", "usd_per_w": 14}
    ]},
     "mark": {"type": "text", "align": "left", "dx": 22, "fontSize": 13},
     "encoding": {"text": {"field": "label"}}},
    {"data": {"values": [
      {"design": "PLANAR", "label": "PLANAR", "usd_per_w": -11.6},
      {"design": "6X", "label": "6X", "usd_per_w": -11.6},
      {"design": "6X", "label": "PYRAMIDAL", "usd_per_w": -33.7}
    ]},
     "mark": {"type": "text", "align": "center", "fontSize": 14},
     "encoding": {"text": {"field": "label"}}},
    {"data": {"values": [
      {"design": "20X", "label": "20X", "usd_per_w": -10},
      {"design": "20X", "label": "CASSEGRAINIAN", "usd_per_w": -30.2}
    ]},
     "mark": {"type": "text", "align": "left", "dx": 1, "fontSize": 14},
     "encoding": {
       "x": {"field": "design", "type": "nominal", "bandPosition": 0, "scale": {"type": "band", "domain": ["PLANAR", "gap1", "6X", "gap2", "gap3", "20X"], "range": [835, 1297], "paddingInner": 0.5924, "paddingOuter": 0.6587, "align": 0.298},
         "axis": {"orient": "bottom", "offset": -544, "labels": false, "ticks": false, "title": null}},
       "text": {"field": "label"}
     }}
  ]
},
{
  "encoding": {
    "x": {"field": "x", "type": "quantitative", "scale": {"domain": [0, 100], "range": [760, 1336], "nice": false, "zero": false}, "axis": null},
    "y": {"field": "y", "type": "quantitative", "scale": {"domain": [0, 100], "range": [0, 970], "nice": false, "zero": false}, "axis": null}
  },
  "layer": [
    {"data": {"values": [
      {"x": 13.54, "x2": 90.8, "y": 0.93, "y2": 4.43},
      {"x": 22.92, "x2": 86.63, "y": 57.01, "y2": 72.68},
      {"x": 23.44, "x2": 84.55, "y": 82.37, "y2": 98.14}
    ]},
     "mark": {"type": "rect", "fill": "#fff", "stroke": "#000", "strokeWidth": 2},
     "encoding": {"x2": {"field": "x2"}, "y2": {"field": "y2"}}},
    {"data": {"values": [
      {"label": "6X - OPTIMIZES RECURRING COSTS", "x": 52.26, "y": 2.78},
      {"label": "6X - BETTER THAN PLANAR", "x": 55.38, "y": 53.92},
      {"label": "6X - BETTER THAN CASSEGRAINIAN", "x": 58.59, "y": 79.21}
    ]},
     "mark": {"type": "text", "align": "center", "fontSize": 22},
     "encoding": {"text": {"field": "label"}}},
    {"data": {"values": [
      {"label": "• 5 TIMES STIFFER", "x": 25.0, "y": 59.12},
      {"label": "• GaAs INCREASES W/m²", "x": 25.0, "y": 62.03},
      {"label": "• ONE-HALF DEGRADATION", "x": 25.0, "y": 64.95},
      {"label": "• 50% MORE EFFICIENT", "x": 25.0, "y": 67.87},
      {"label": "SHUTTLE STOWAGE", "x": 28.65, "y": 70.79},
      {"label": "• MORE EFFICIENT SHUTTLE", "x": 25.0, "y": 84.36},
      {"label": "STOWAGE", "x": 28.65, "y": 87.45},
      {"label": "• 1.5 TIMES LIGHTER", "x": 25.0, "y": 90.38},
      {"label": "• GREATER TOLERANCE", "x": 25.0, "y": 93.3},
      {"label": "TO POINTING", "x": 28.65, "y": 96.22}
    ]},
     "mark": {"type": "text", "align": "left", "fontSize": 22},
     "encoding": {"text": {"field": "label"}}}
  ]
}
]
}
